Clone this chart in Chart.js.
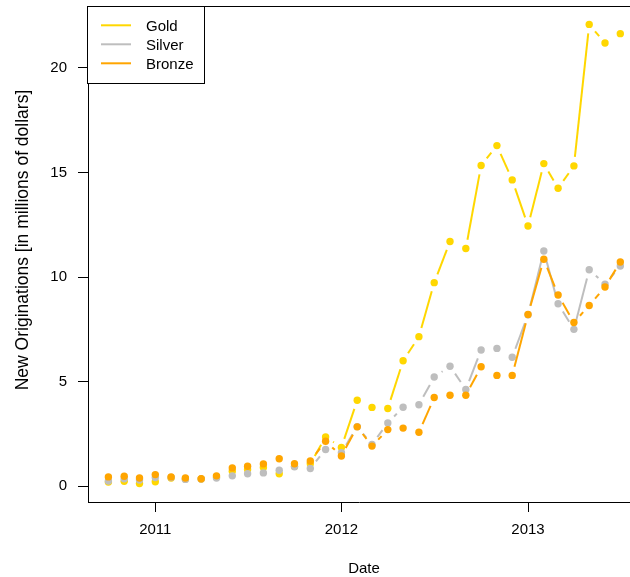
<!DOCTYPE html>
<html><head><meta charset="utf-8">
<script src="https://cdn.jsdelivr.net/npm/chart.js@4/dist/chart.umd.min.js"></script>
<style>html,body{margin:0;padding:0;background:#fff;overflow:hidden}#wrap{width:630px;height:577px;position:relative}</style>
</head><body><div id="wrap"><canvas id="c"></canvas></div>
<script>
// ---- data ----
const months = ["2010-10","2010-11","2010-12","2011-01","2011-02","2011-03","2011-04","2011-05","2011-06","2011-07","2011-08","2011-09","2011-10","2011-11","2011-12","2012-01","2012-02","2012-03","2012-04","2012-05","2012-06","2012-07","2012-08","2012-09","2012-10","2012-11","2012-12","2013-01","2013-02","2013-03","2013-04","2013-05","2013-06","2013-07"];
const gold   = [0.20,0.24,0.13,0.22,0.40,0.35,0.35,0.45,0.72,0.80,0.90,0.60,0.95,1.08,2.36,1.86,4.11,3.77,3.72,6.00,7.15,9.73,11.70,11.36,15.33,16.28,14.64,12.44,15.42,14.24,15.31,22.07,21.18,21.63];
const silver = [0.25,0.36,0.30,0.42,0.42,0.33,0.35,0.40,0.50,0.60,0.64,0.77,0.93,0.85,1.76,1.61,2.85,2.00,3.03,3.78,3.90,5.22,5.74,4.63,6.51,6.59,6.17,8.20,11.24,8.72,7.50,10.35,9.66,10.53];
const bronze = [0.45,0.48,0.40,0.56,0.45,0.40,0.36,0.50,0.88,0.96,1.07,1.32,1.08,1.21,2.15,1.45,2.84,1.92,2.71,2.78,2.58,4.24,4.35,4.35,5.71,5.30,5.30,8.21,10.85,9.14,7.83,8.64,9.52,10.72];
const seriesNames = ["Gold","Silver","Bronze"];
const seriesColors = ["#FFD700","#BEBEBE","#FFA500"];
const yTicks = [0,5,10,15,20];
const xTickYears = ["2011","2012","2013"];
const xTitle = "Date";
const yTitle = "New Originations [in millions of dollars]";

// ---- helpers ----
const DAY = 864e5;
const toDay = s => Date.UTC(+s.slice(0,4), +s.slice(5,7)-1, 1) / DAY;
const xMin = Date.UTC(2010,7,22) / DAY;
const xMax = Date.UTC(2013,6,20) / DAY;
const FONT = "'Liberation Sans', Arial, Helvetica, sans-serif";
const pts = vals => months.map((m,i) => ({x: toDay(m), y: vals[i]}));

const GAP = 9;
const typeB = {
  id: 'typeB',
  beforeDatasetDraw(chart, args) {
    const ctx = chart.ctx, meta = args.meta, ds = chart.data.datasets[args.index];
    const a = chart.chartArea;
    ctx.save();
    ctx.beginPath(); ctx.rect(a.left, a.top, a.right - a.left, a.bottom - a.top); ctx.clip();
    ctx.strokeStyle = ds.lineColor; ctx.lineWidth = 2; ctx.lineCap = 'butt';
    for (let i = 0; i < meta.data.length - 1; i++) {
      const p0 = meta.data[i], p1 = meta.data[i+1];
      const dx = p1.x - p0.x, dy = p1.y - p0.y, L = Math.hypot(dx, dy);
      if (L <= 2*GAP) continue;
      const ux = dx / L, uy = dy / L;
      ctx.beginPath();
      ctx.moveTo(p0.x + ux*GAP, p0.y + uy*GAP);
      ctx.lineTo(p1.x - ux*GAP, p1.y - uy*GAP);
      ctx.stroke();
    }
    ctx.restore();
  },
  afterDraw(chart) {
    const ctx = chart.ctx, a = chart.chartArea;
    ctx.save();
    // top frame line
    ctx.strokeStyle = '#000'; ctx.lineWidth = 1;
    ctx.beginPath(); ctx.moveTo(a.left, Math.round(a.top) + 0.5); ctx.lineTo(a.right, Math.round(a.top) + 0.5); ctx.stroke();
    // legend
    ctx.fillStyle = '#fff';
    ctx.fillRect(87.5, 6.5, 117, 77);
    ctx.strokeRect(87.5, 6.5, 117, 77);
    ctx.font = "15px " + FONT; ctx.textBaseline = 'alphabetic'; ctx.textAlign = 'left';
    const ly = [25.3, 44.3, 63.3];
    seriesNames.forEach((n, i) => {
      ctx.strokeStyle = seriesColors[i]; ctx.lineWidth = 2;
      ctx.beginPath(); ctx.moveTo(101, ly[i]); ctx.lineTo(131, ly[i]); ctx.stroke();
      ctx.fillStyle = '#000';
      ctx.fillText(n, 146, ly[i] + 5.2);
    });
    // axis titles
    ctx.fillStyle = '#000';
    ctx.textAlign = 'center';
    ctx.fillText(xTitle, 364, 572.5);
    ctx.save();
    ctx.font = "17.5px " + FONT;
    ctx.translate(28.3, 240);
    ctx.rotate(-Math.PI/2);
    ctx.textBaseline = 'alphabetic';
    ctx.fillText(yTitle, 0, 0);
    ctx.restore();
    ctx.restore();
  }
};

const mk = (i, vals, order) => ({
  label: seriesNames[i], data: pts(vals), showLine: false,
  lineColor: seriesColors[i],
  pointRadius: 3.7, pointHoverRadius: 3.7, pointBorderWidth: 0,
  pointBackgroundColor: seriesColors[i], backgroundColor: seriesColors[i], borderColor: seriesColors[i],
  order: order
});

new Chart(document.getElementById('c'), {
  type: 'line',
  data: { datasets: [ mk(0, gold, 3), mk(1, silver, 2), mk(2, bronze, 1) ] },
  options: {
    animation: false, responsive: true, maintainAspectRatio: false, devicePixelRatio: 1,
    layout: { autoPadding: false, padding: { top: 6, right: 0, left: 0, bottom: 0 } },
    plugins: { legend: { display: false }, tooltip: { enabled: false } },
    scales: {
      x: {
        type: 'linear', min: xMin, max: xMax,
        afterBuildTicks: s => { s.ticks = xTickYears.map(y => ({ value: Date.UTC(+y,0,1) / DAY })); },
        afterFit: s => { s.height = 75; s.paddingLeft = 0; s.paddingRight = 0; },
        ticks: { callback: (v, i) => xTickYears[i], color: '#000', font: { family: FONT, size: 15 }, padding: 9, maxRotation: 0, autoSkip: false },
        grid: { drawOnChartArea: false, drawTicks: true, tickLength: 10, color: '#000', lineWidth: 1 },
        border: { display: true, color: '#000', width: 1 }
      },
      y: {
        type: 'linear', min: -0.75, max: 22.95,
        afterBuildTicks: s => { s.ticks = yTicks.map(v => ({ value: v })); },
        afterFit: s => { s.width = 88; s.paddingTop = 0; s.paddingBottom = 0; },
        ticks: { callback: v => String(v), color: '#000', font: { family: FONT, size: 15 }, padding: 11 },
        grid: { drawOnChartArea: false, drawTicks: true, tickLength: 10, color: '#000', lineWidth: 1 },
        border: { display: true, color: '#000', width: 1 }
      }
    }
  },
  plugins: [typeB]
});
</script>
</body></html>
